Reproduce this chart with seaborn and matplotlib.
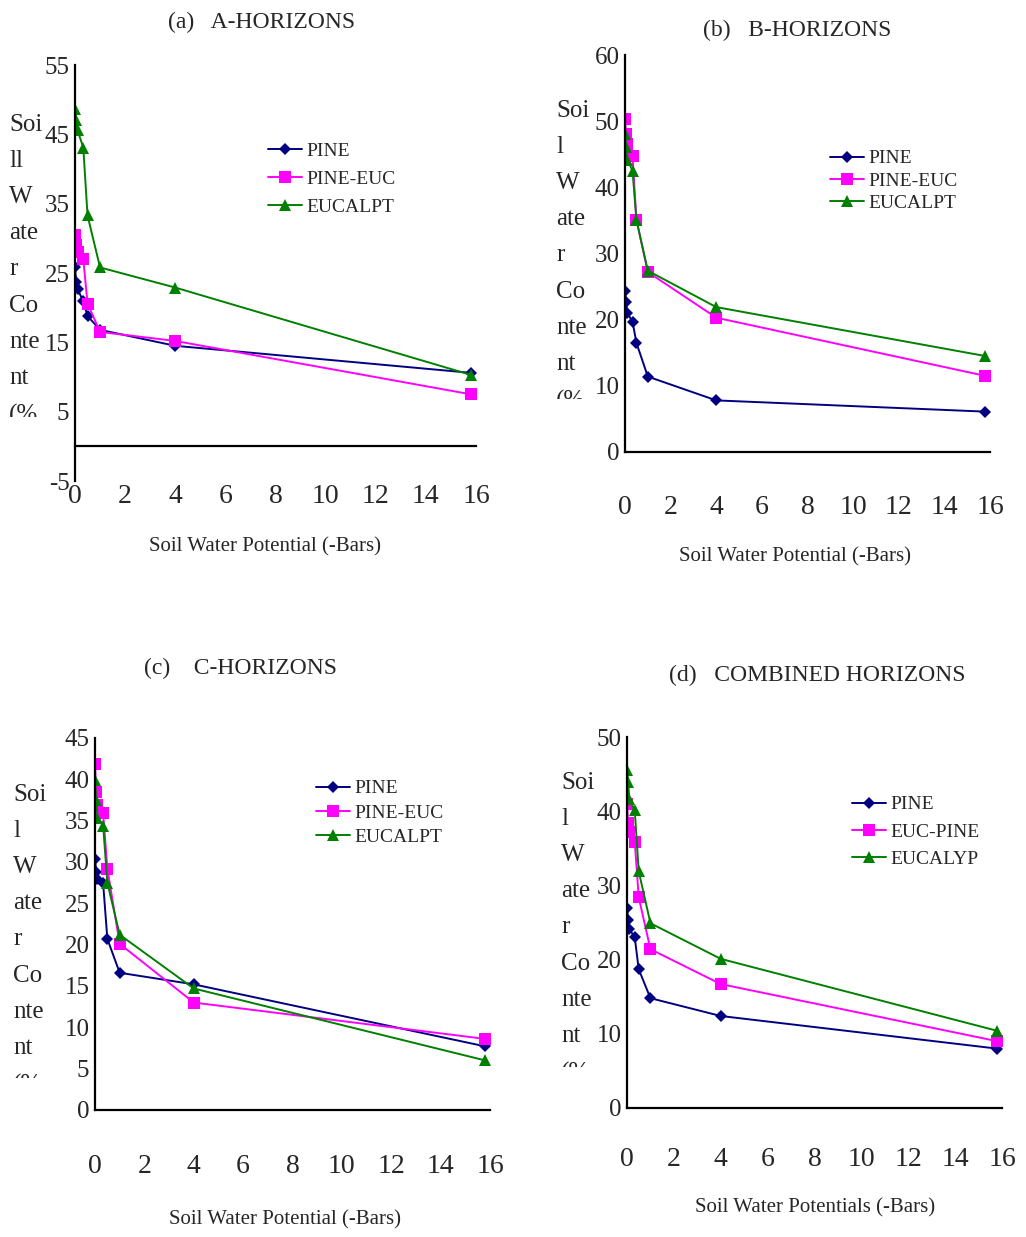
import pandas as pd
import matplotlib
matplotlib.use("Agg")
import matplotlib.pyplot as plt
import seaborn as sns
from matplotlib.transforms import Bbox

# soil water potential (-bars) at which water content was measured
potential = [0, 0.05, 0.1, 0.33, 0.5, 1, 4, 15.8]

# (a) A-horizons
a_pine = [25.8, 23.7, 22.7, 20.9, 18.8, 16.8, 14.5, 10.6]
a_pine_euc = [30.5, 29.0, 28.0, 27.0, 20.6, 16.5, 15.2, 7.5]
a_eucalpt = [48.7, 47.1, 45.6, 43.1, 33.3, 25.8, 22.9, 10.3]

# (b) B-horizons
b_pine = [24.3, 22.6, 21.0, 19.7, 16.5, 11.4, 7.8, 6.1]
b_pine_euc = [50.4, 48.0, 46.6, 44.7, 35.1, 27.2, 20.3, 11.5]
b_eucalpt = [48.1, 46.1, 44.2, 42.5, 35.1, 27.4, 21.9, 14.5]

# (c) C-horizons
c_pine = [30.4, 28.8, 27.9, 27.4, 20.7, 16.6, 15.2, 7.7]
c_pine_euc = [41.8, 38.5, 36.9, 35.9, 29.2, 20.1, 13.0, 8.6]
c_eucalpt = [39.9, 37.5, 35.3, 34.4, 27.5, 21.2, 14.7, 6.0]

# (d) combined horizons
d_pine = [27.0, 25.3, 24.1, 23.0, 18.7, 14.8, 12.4, 8.0]
d_euc_pine = [41.0, 38.4, 37.2, 35.9, 28.4, 21.4, 16.7, 9.0]
d_eucalyp = [45.6, 43.9, 41.7, 40.1, 31.9, 24.9, 20.1, 10.4]

x_ticks = [0, 2, 4, 6, 8, 10, 12, 14, 16]
a_yticks = [-5, 5, 15, 25, 35, 45, 55]
b_yticks = [0, 10, 20, 30, 40, 50, 60]
c_yticks = [0, 5, 10, 15, 20, 25, 30, 35, 40, 45]
d_yticks = [0, 10, 20, 30, 40, 50]

sns.set_style("white")
plt.rcParams["font.family"] = ["Liberation Serif", "DejaVu Serif"]
plt.rcParams["axes.unicode_minus"] = False

W, H = 1026, 1237
fig = plt.figure(figsize=(W / 100, H / 100), dpi=100)

colors = ["#000080", "#FF00FF", "#008000"]
marks = ["D", "s", "^"]
msizes = [6.5, 9, 9]


def px_rect(l, t, r, b):
    return [l / W, 1 - b / H, (r - l) / W, (b - t) / H]


panels = [
    dict(rect=(75, 65, 476, 481), series=[("PINE", a_pine), ("PINE-EUC", a_pine_euc), ("EUCALPT", a_eucalpt)],
         yticks=a_yticks, title="(a)   A-HORIZONS", title_xy=(262, 22),
         xlabel="Soil Water Potential (-Bars)", xlabel_xy=(265, 547), pad=20,
         leg_xy=(268, 179), leg_space=0.55,
         ylab="Soi\nll\nW\nate\nr\nCo\nnte\nnt\n(%", ylab_xy=(9, 114), ylab_clip=417),
    dict(rect=(625, 55, 990, 452), series=[("PINE", b_pine), ("PINE-EUC", b_pine_euc), ("EUCALPT", b_eucalpt)],
         yticks=b_yticks, title="(b)   B-HORIZONS", title_xy=(797, 30),
         xlabel="Soil Water Potential (-Bars)", xlabel_xy=(795, 557), pad=24,
         leg_xy=(830, 181), leg_space=0.25,
         ylab="Soi\nl\nW\nate\nr\nCo\nnte\nnt\n(%", ylab_xy=(556, 100), ylab_clip=399),
    dict(rect=(95, 738, 490, 1110), series=[("PINE", c_pine), ("PINE-EUC", c_pine_euc), ("EUCALPT", c_eucalpt)],
         yticks=c_yticks, title="(c)    C-HORIZONS", title_xy=(240, 668),
         xlabel="Soil Water Potential (-Bars)", xlabel_xy=(285, 1220), pad=25,
         leg_xy=(316, 813), leg_space=0.35,
         ylab="Soi\nl\nW\nate\nr\nCo\nnte\nnt\n(%", ylab_xy=(13, 784), ylab_clip=1078),
    dict(rect=(627, 737, 1002, 1108), series=[("PINE", d_pine), ("EUC-PINE", d_euc_pine), ("EUCALYP", d_eucalyp)],
         yticks=d_yticks, title="(d)   COMBINED HORIZONS", title_xy=(817, 675),
         xlabel="Soil Water Potentials (-Bars)", xlabel_xy=(815, 1208), pad=21,
         leg_xy=(852, 832), leg_space=0.5,
         ylab="Soi\nl\nW\nate\nr\nCo\nnte\nnt\n(%", ylab_xy=(561, 772), ylab_clip=1067),
]

for p in panels:
    ax = fig.add_axes(px_rect(*p["rect"]))
    rows = []
    for name, vals in p["series"]:
        for xv, yv in zip(potential, vals):
            rows.append({"x": xv, "y": yv, "series": name})
    df = pd.DataFrame(rows)
    names = [s[0] for s in p["series"]]
    sns.lineplot(data=df, x="x", y="y", hue="series", style="series",
                 palette=dict(zip(names, colors)), markers=dict(zip(names, marks)),
                 dashes=False, linewidth=1.4, markeredgewidth=0, ax=ax)
    for line, ms in zip(ax.lines, msizes):
        line.set_markersize(ms)

    ax.set_xlim(0, 16)
    ax.set_ylim(p["yticks"][0], p["yticks"][-1])
    ax.set_xticks(x_ticks)
    ax.set_yticks(p["yticks"])
    ax.spines["top"].set_visible(False)
    ax.spines["right"].set_visible(False)
    for s in ["left", "bottom"]:
        ax.spines[s].set_linewidth(1.6)
        ax.spines[s].set_color("black")
    if p["yticks"][0] < 0:
        ax.spines["bottom"].set_position(("data", 0))
    ax.tick_params(axis="x", direction="out", length=7, width=1.6, pad=p["pad"], labelsize=20)
    ax.tick_params(axis="y", direction="out", length=4, width=1.6, pad=0, labelsize=18)
    ax.set_xlabel("")
    ax.set_ylabel("")

    handles, labels = ax.get_legend_handles_labels()
    leg = ax.legend(handles, labels, loc="center left",
                    bbox_to_anchor=(p["leg_xy"][0] / W, 1 - p["leg_xy"][1] / H),
                    bbox_transform=fig.transFigure, frameon=False, fontsize=14,
                    handlelength=1.75, handletextpad=0.2, borderpad=0, borderaxespad=0,
                    labelspacing=p["leg_space"])
    for h, ms in zip(leg.legend_handles, msizes):
        h.set_markersize(ms)
        h.set_linewidth(1.4)

    fig.text(p["title_xy"][0] / W, 1 - p["title_xy"][1] / H, p["title"],
             ha="center", va="center", fontsize=17)
    fig.text(p["xlabel_xy"][0] / W, 1 - p["xlabel_xy"][1] / H, p["xlabel"],
             ha="center", va="center", fontsize=15)
    t = fig.text(p["ylab_xy"][0] / W, 1 - p["ylab_xy"][1] / H, p["ylab"],
                 ha="left", va="top", fontsize=18, linespacing=1.83)
    clip = Bbox([[0, H - p["ylab_clip"]], [W, H]])
    t.set_clip_box(clip)
    t.set_clip_on(True)

fig.savefig("out.png", dpi=100)
